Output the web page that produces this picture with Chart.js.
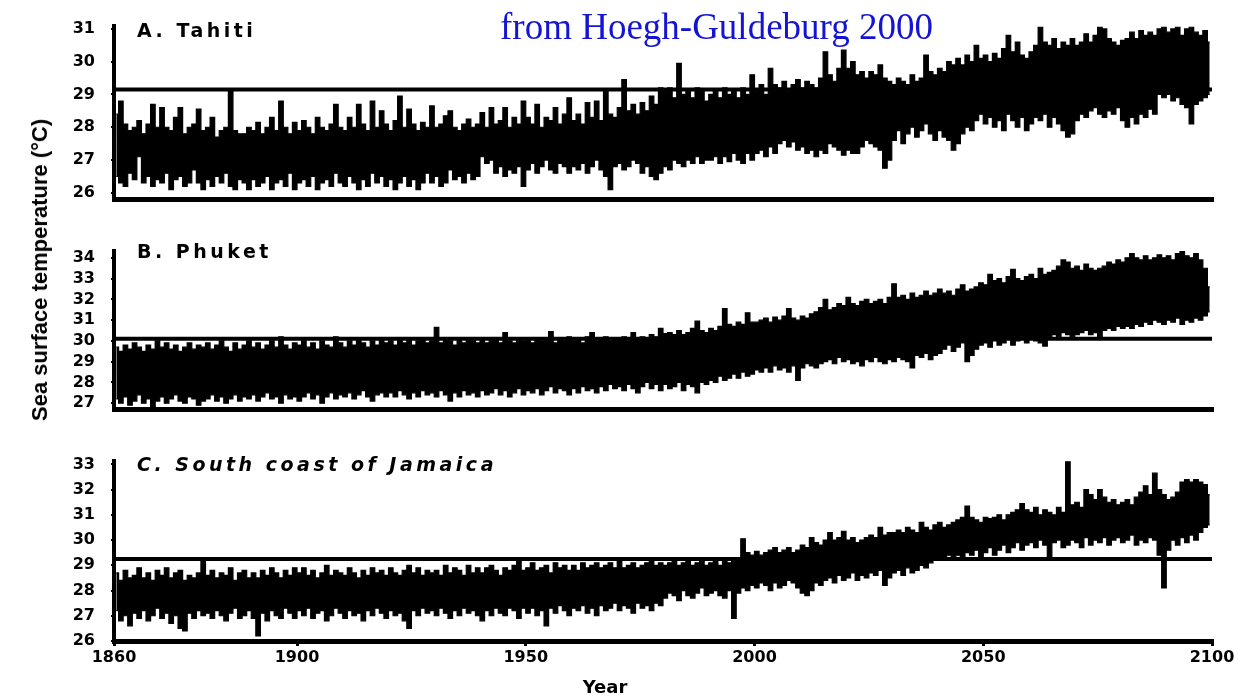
<!DOCTYPE html>
<html>
<head>
<meta charset="utf-8">
<script src="https://cdn.jsdelivr.net/npm/chart.js@4.4.1/dist/chart.umd.min.js"></script>
<style>
  html, body { margin: 0; padding: 0; background: #fff; }
  #wrap { position: relative; width: 1245px; height: 696px; overflow: hidden; background: #fff; }
  canvas { position: absolute; left: 0; }
  .lbl { position: absolute; font-family: "DejaVu Sans", sans-serif; font-weight: bold; color: #000; white-space: nowrap; }
  .panel { font-size: 19px; letter-spacing: 3.5px; }
</style>
</head>
<body>
<div id="wrap">
  <canvas id="cA" width="1245" height="225" style="top:0px"></canvas>
  <canvas id="cB" width="1245" height="210" style="top:225px"></canvas>
  <canvas id="cC" width="1245" height="261" style="top:435px"></canvas>

  <div class="lbl panel" style="left:137px; top:19px;">A. Tahiti</div>
  <div class="lbl panel" style="left:137px; top:240px;">B. Phuket</div>
  <div class="lbl panel" style="left:137px; top:453px; font-style:italic;">C. South coast of Jamaica</div>

  <div class="lbl" style="left:500px; top:5px; font-family:'Liberation Serif','Times New Roman',serif; font-weight:normal; font-size:37px; color:#1414d2;">from Hoegh-Guldeburg 2000</div>

  <div class="lbl" style="left:40px; top:270px; font-family:'Liberation Sans',Arial,sans-serif; font-size:22px; transform: translate(-50%,-50%) rotate(-90deg);">Sea surface temperature (°C)</div>

  <div class="lbl" style="left:605px; top:686px; font-size:18px; transform: translate(-50%,-50%);">Year</div>
</div>

<script>
// ---------------- DATA ----------------
const startYear = 1860;
const endYear = 2100;

// Tick labels
const xTickYears = [1860, 1900, 1950, 2000, 2050, 2100];
const tahitiTicks = [26, 27, 28, 29, 30, 31];
const phuketTicks = [27, 28, 29, 30, 31, 32, 33, 34];
const jamaicaTicks = [26, 27, 28, 29, 30, 31, 32, 33];

// Bleaching thresholds (horizontal lines)
const tahitiThreshold = 29.15;
const phuketThreshold = 30.1;
const jamaicaThreshold = 29.25;

// A. Tahiti: yearly upper and lower extremes of the monthly SST trace, 1860..2099
const tahitiHi = [
  28.4, 28.8, 28.1, 27.9, 28.0, 28.2, 27.8, 28.1, 28.7, 28.0,
  28.6, 28.0, 27.9, 28.3, 28.6, 27.8, 28.0, 28.1, 28.55, 27.9,
  28.0, 28.3, 27.7, 27.9, 28.0, 29.1, 27.9, 27.8, 27.8, 28.0,
  27.9, 28.15, 27.8, 28.0, 28.3, 27.9, 28.8, 28.0, 27.8, 28.15,
  27.9, 28.2, 28.0, 27.8, 28.3, 28.0, 27.9, 28.1, 28.7, 28.0,
  27.9, 28.3, 28.0, 28.7, 28.1, 27.9, 28.8, 28.0, 28.5, 28.1,
  27.9, 28.2, 28.95, 28.0, 28.55, 28.1, 27.9, 28.15, 28.0, 28.65,
  28.0, 28.1, 28.35, 28.5, 28.0, 27.9, 28.1, 28.25, 28.0, 28.1,
  28.45, 28.0, 28.6, 28.1, 28.2, 28.6, 28.0, 28.3, 28.1, 28.8,
  28.3, 28.1, 28.7, 28.0, 28.3, 28.2, 28.6, 28.1, 28.4, 28.9,
  28.2, 28.4, 28.1, 28.75, 28.3, 28.8, 28.2, 29.1, 28.4, 28.3,
  28.6, 29.45, 28.5, 28.7, 28.4, 28.75, 28.5, 28.95, 28.7, 29.2,
  29.1, 29.2, 28.9, 29.95, 29.0, 29.1, 28.9, 29.2, 29.1, 28.8,
  29.0, 29.1, 28.9, 29.2, 29.0, 29.1, 28.9, 29.2, 29.0, 29.6,
  29.1, 29.3, 29.0, 29.8, 29.3, 29.2, 29.4, 29.1, 29.3, 29.45,
  29.2, 29.4, 29.3, 29.2, 29.5, 30.3, 29.6, 29.4, 29.8, 30.35,
  29.8, 30.0, 29.6, 29.7, 29.5, 29.7, 29.6, 29.9, 29.5, 29.4,
  29.3, 29.5, 29.4, 29.3, 29.6, 29.4, 29.5, 30.2, 29.7, 29.6,
  29.8, 29.7, 30.0, 29.9, 30.1, 29.9, 30.2, 30.0, 30.5, 30.1,
  30.2, 30.0, 30.25, 30.1, 30.4, 30.8, 30.3, 30.6, 30.2, 30.1,
  30.3, 30.5, 31.05, 30.6, 30.5, 30.7, 30.4, 30.6, 30.5, 30.7,
  30.5, 30.6, 30.85, 30.6, 30.8, 31.05, 31.0, 30.7, 30.6, 30.5,
  30.65, 30.7, 30.9, 30.7, 30.95, 30.8, 30.9, 30.8, 31.0, 31.05,
  30.9, 31.0, 31.05, 30.8, 31.0, 31.05, 30.9, 30.8, 30.95, 30.6
];
const tahitiLo = [
  26.5, 26.3, 26.2, 26.6, 26.4, 27.1, 26.3, 26.5, 26.2, 26.4,
  26.3, 26.6, 26.1, 26.4, 26.5, 26.2, 26.3, 26.7, 26.3, 26.1,
  26.4, 26.2, 26.5, 26.3, 26.6, 26.2, 26.1, 26.4, 26.3, 26.1,
  26.4, 26.2, 26.3, 26.5, 26.1, 26.3, 26.4, 26.2, 26.6, 26.1,
  26.3, 26.4, 26.2, 26.5, 26.1, 26.3, 26.4, 26.2, 26.6, 26.3,
  26.2, 26.5, 26.3, 26.1, 26.4, 26.2, 26.6, 26.3, 26.5, 26.2,
  26.4, 26.1, 26.3, 26.5, 26.2, 26.4, 26.1, 26.3, 26.6, 26.3,
  26.5, 26.2, 26.3, 26.7, 26.4, 26.5, 26.3, 26.6, 26.4, 26.5,
  27.1, 26.9, 27.0, 26.6, 26.8, 26.5, 26.7, 26.6, 26.8, 26.2,
  26.7, 26.9, 26.6, 26.8, 27.0, 26.7, 26.6, 26.9, 26.8, 26.6,
  26.8, 26.7, 26.9, 26.6, 26.8, 27.0, 26.7, 26.5, 26.1, 26.8,
  26.9, 26.7, 26.8, 27.0, 26.9, 26.6, 26.8, 26.5, 26.4, 26.6,
  26.8, 26.7, 27.0, 26.9, 26.8, 27.0, 26.9, 27.1, 26.9, 27.0,
  27.0, 27.1, 26.9, 27.1, 26.95, 27.2, 27.0, 26.9, 27.2, 27.0,
  27.2, 27.3, 27.1, 27.4, 27.2, 27.5, 27.6, 27.4, 27.55, 27.3,
  27.4, 27.2, 27.3, 27.1, 27.3, 27.2, 27.5, 27.4, 27.3, 27.15,
  27.3, 27.2, 27.2, 27.4, 27.6, 27.5, 27.4, 27.3, 26.75, 27.0,
  27.6, 27.9, 27.5, 27.8, 28.0, 27.7, 27.9, 28.1, 27.8, 27.6,
  27.9, 27.7, 27.6, 27.3, 27.5, 27.8, 28.0, 27.9, 28.2, 28.4,
  28.1, 28.3, 28.0, 28.2, 27.9, 28.4, 28.2, 28.0, 28.3, 27.9,
  28.1, 28.3, 28.2, 28.4, 28.0, 28.3, 28.1, 27.9, 27.7, 27.8,
  28.2, 28.4, 28.3, 28.5, 28.6, 28.4, 28.3, 28.5, 28.4, 28.6,
  28.2, 28.0, 28.3, 28.1, 28.4, 28.3, 28.55, 28.4, 29.0, 28.9,
  29.0, 28.8, 28.9, 28.7, 28.6, 28.1, 28.7, 28.8, 28.9, 29.0
];

// B. Phuket
const phuketHi = [
  29.7, 29.5, 29.8, 29.6, 29.9, 29.7, 29.5, 29.8, 29.6, 30.0,
  29.7, 29.9, 29.6, 29.8, 29.5, 29.7, 29.9, 29.6, 29.8, 29.7,
  29.9, 29.6, 29.8, 30.0, 29.7, 29.5, 29.9, 29.6, 29.8, 30.0,
  29.7, 29.9, 29.6, 29.8, 30.0, 29.7, 30.2, 29.8, 29.6, 29.9,
  29.8, 30.0, 29.7, 29.9, 29.6, 30.0, 29.8, 29.7, 30.2, 29.9,
  29.7, 30.0, 29.8, 30.05, 29.9, 29.7, 30.0, 29.8, 30.1, 29.9,
  30.0, 29.8, 30.1, 29.9, 30.05, 29.8, 30.0, 30.1, 29.9, 30.0,
  30.65, 29.9, 30.1, 30.0, 29.8, 30.1, 29.9, 30.05, 30.0, 29.9,
  30.1, 29.9, 30.0, 30.1, 29.9, 30.4, 30.0, 29.9, 30.1, 30.0,
  30.1, 29.9, 30.05, 30.0, 30.1, 30.45, 29.9, 30.1, 30.0, 30.2,
  30.0, 30.1, 29.9, 30.2, 30.4, 30.0, 30.1, 30.2, 30.0, 30.15,
  30.1, 30.2, 30.0, 30.4, 30.1, 30.2, 30.05, 30.3, 30.2, 30.6,
  30.35, 30.4, 30.3, 30.5, 30.3, 30.4, 30.6, 30.95, 30.5, 30.4,
  30.6, 30.5, 30.7, 31.55, 30.8, 30.7, 30.9, 30.8, 31.35, 30.9,
  30.9, 31.0, 31.1, 30.9, 31.15, 31.0, 31.2, 31.55, 31.1, 31.0,
  31.2, 31.1, 31.3, 31.4, 31.6, 32.0, 31.5, 31.6, 31.8, 31.7,
  32.1, 31.8, 31.7, 31.9, 32.0, 31.8, 31.9, 32.0, 31.8, 32.1,
  32.75, 32.1, 32.2, 32.0, 32.3, 32.1, 32.2, 32.4, 32.2, 32.3,
  32.5, 32.3, 32.4, 32.2, 32.5, 32.7, 32.4, 32.5, 32.6, 32.8,
  32.7, 33.2, 32.9, 33.0, 32.8, 33.1, 33.45, 33.0, 32.9, 33.1,
  33.2, 33.0, 33.5, 33.2, 33.3, 33.4, 33.6, 33.9, 33.8, 33.5,
  33.6, 33.4, 33.7, 33.5, 33.4, 33.5, 33.6, 33.8, 33.7, 33.9,
  33.8, 34.0, 34.2, 34.0, 33.9, 34.1, 33.9, 34.0, 34.15, 34.0,
  34.1, 33.9, 34.2, 34.3, 34.1, 34.0, 34.2, 33.9, 33.5, 32.6
];
const phuketLo = [
  27.2, 27.0, 27.3, 26.9, 27.1, 27.4, 27.0, 27.2, 26.8, 27.1,
  27.3, 27.0, 27.2, 27.4, 27.1, 27.0, 27.3, 27.2, 26.9, 27.1,
  27.2, 27.4, 27.1, 27.3, 27.0, 27.2, 27.4, 27.1, 27.3, 27.2,
  27.4, 27.1, 27.3, 27.5, 27.2, 27.3, 27.0, 27.4, 27.2, 27.3,
  27.1, 27.3, 27.5, 27.2, 27.4, 27.0, 27.3, 27.5, 27.2, 27.4,
  27.3, 27.5, 27.2, 27.4, 27.6, 27.3, 27.1, 27.4, 27.5, 27.3,
  27.5, 27.3, 27.6, 27.4, 27.2, 27.5, 27.3, 27.6, 27.4, 27.5,
  27.3, 27.6, 27.4, 27.1, 27.5, 27.3, 27.6, 27.4, 27.5, 27.3,
  27.6, 27.4, 27.5, 27.7, 27.4, 27.6, 27.3, 27.5, 27.7, 27.4,
  27.6, 27.5, 27.7, 27.4, 27.6, 27.8, 27.5, 27.7, 27.6, 27.4,
  27.7, 27.5, 27.8, 27.6, 27.7, 27.5, 27.8, 27.6, 27.9, 27.7,
  27.8, 27.6, 27.9, 27.7, 27.5, 27.8, 28.0, 27.7, 27.9, 27.6,
  27.9, 27.7, 27.8, 28.0, 27.6, 27.9, 27.8, 27.5, 28.0, 27.9,
  28.1, 28.0, 28.3, 28.1, 28.2, 28.4, 28.2, 28.5, 28.3, 28.4,
  28.6, 28.5, 28.7, 28.5, 28.8, 28.6, 28.7, 28.5, 28.8, 28.1,
  28.7, 28.9, 28.8, 28.7, 28.9, 29.0, 29.1, 28.9, 29.2, 29.0,
  29.1, 28.9, 29.0, 28.8, 29.1, 29.0, 29.2, 29.0, 28.9, 29.1,
  29.0, 29.2, 29.1, 29.0, 28.7, 29.3, 29.2, 29.4, 29.1, 29.3,
  29.4, 29.6, 29.8, 29.5, 29.7, 29.9, 29.0, 29.3, 29.6, 29.8,
  29.9, 29.7, 30.0, 29.8, 29.9, 30.1, 29.8, 30.0, 30.2, 29.9,
  30.1, 30.0, 29.9, 29.75, 30.2, 30.3, 30.2, 30.4, 30.3, 30.2,
  30.3, 30.4, 30.5, 30.3, 30.4, 30.2, 30.5, 30.6, 30.5, 30.7,
  30.6, 30.7, 30.6, 30.8, 30.7, 30.9, 30.8, 31.0, 30.9, 30.8,
  31.0, 30.9, 31.1, 30.8, 31.0, 30.9, 31.1, 31.0, 31.2, 31.4
];

// C. South coast of Jamaica
const jamaicaHi = [
  28.7, 28.4, 28.8, 28.5, 28.6, 28.9, 28.5, 28.7, 28.4, 28.8,
  28.6, 28.9, 28.5, 28.7, 28.8, 28.4, 28.6, 28.5, 28.7, 29.2,
  28.6, 28.8, 28.5, 28.7, 28.6, 28.9, 28.4, 28.7, 28.8, 28.5,
  28.7, 28.5, 28.8, 28.6, 28.9, 28.7, 28.5, 28.8, 28.6, 28.9,
  28.7, 28.9, 28.6, 28.8, 28.5, 28.7, 29.0, 28.6, 28.8, 28.7,
  28.6, 28.9, 28.7, 28.5, 28.8, 28.6, 28.9, 28.7, 28.8, 28.6,
  28.9, 28.7, 28.6, 28.8, 29.0, 28.7, 28.9, 28.6, 28.8, 28.7,
  28.8, 28.6, 29.0, 28.7, 28.9, 28.8, 28.6, 29.0, 28.7, 28.9,
  28.7, 28.9, 29.0, 28.8, 28.6, 28.9, 28.8, 29.0, 29.2, 28.8,
  28.9, 29.1, 28.8, 28.9, 29.0, 28.7, 29.1, 28.9, 29.0, 28.8,
  29.0, 28.8, 29.1, 28.9, 29.0, 29.1, 28.9, 29.0, 29.1, 28.9,
  29.2, 28.9, 29.0, 29.1, 28.9, 29.0, 29.1, 29.2, 29.0, 29.1,
  29.0, 29.1, 29.2, 29.0, 29.1, 29.2, 29.0, 29.1, 29.2, 29.0,
  29.1, 29.2, 29.0, 29.15, 29.1, 29.2, 29.3, 30.05, 29.5, 29.4,
  29.55, 29.4, 29.5, 29.6, 29.7, 29.5, 29.6, 29.7, 29.5, 29.6,
  29.8, 29.7, 30.1, 29.9, 29.8, 30.0, 30.3, 30.0, 30.1, 30.35,
  30.0, 30.1, 29.9, 30.0, 30.1, 30.2, 30.1, 30.5, 30.2, 30.3,
  30.3, 30.4, 30.3, 30.5, 30.4, 30.3, 30.7, 30.5, 30.4, 30.6,
  30.7, 30.5, 30.6, 30.7, 30.8, 30.9, 31.35, 30.9, 30.8, 30.7,
  30.9, 30.85, 30.9, 31.0, 30.8, 31.0, 31.1, 31.2, 31.45, 31.2,
  31.1, 31.3, 31.0, 31.2, 31.1, 31.0, 31.3, 31.1, 33.1, 31.4,
  31.5, 31.3, 32.0, 31.8, 31.6, 32.0, 31.7, 31.5, 31.6, 31.4,
  31.5, 31.6, 31.4, 31.7, 31.9, 32.15, 31.8, 32.65, 32.0, 31.8,
  31.6, 31.7, 31.9, 32.3, 32.4, 32.3, 32.4, 32.3, 32.2, 31.8
];
const jamaicaLo = [
  27.2, 26.8, 27.0, 26.6, 27.1, 26.9, 27.2, 26.8, 27.0, 27.3,
  26.9, 27.1, 26.7, 27.0, 26.5, 26.4, 27.1, 26.9, 27.2, 27.0,
  27.1, 26.9, 27.2, 27.0, 26.8, 27.1, 27.3, 26.9, 27.0, 27.2,
  26.9, 26.2, 27.1, 26.8, 27.2, 27.0, 26.9, 27.3, 27.1, 26.9,
  27.2, 27.0, 27.3, 26.9, 27.1, 27.2, 26.8, 27.0, 27.3, 27.1,
  26.9, 27.2, 27.0, 27.1, 26.8, 27.2, 27.0, 27.3, 27.1, 26.9,
  27.2, 27.0, 27.1, 26.8, 26.5, 27.2, 27.0, 27.3, 27.1, 27.2,
  27.0, 27.3, 27.1, 26.9, 27.2, 27.0, 27.3, 27.1, 27.2, 27.0,
  26.8, 27.2, 27.0, 27.3, 27.1, 27.0, 27.3, 27.2, 26.9, 27.3,
  27.1, 27.3, 27.0, 27.2, 26.6, 27.3, 27.1, 27.4, 27.2, 27.0,
  27.3, 27.2, 27.4, 27.1, 27.3, 27.0, 27.4, 27.2, 27.3, 27.5,
  27.2, 27.4, 27.3, 27.1, 27.5, 27.3, 27.4, 27.2, 27.5, 27.4,
  27.7, 27.9, 27.8, 27.6, 28.0, 27.8, 27.7, 27.9, 28.1, 27.8,
  27.9, 28.0, 27.8, 27.7, 28.0, 26.9, 27.9, 28.1, 28.0, 28.2,
  28.1, 28.3, 28.2, 28.0, 28.3, 28.1, 28.2, 28.4, 28.3, 28.1,
  27.9, 27.8, 28.0, 28.3, 28.2, 28.4, 28.5, 28.3, 28.6, 28.4,
  28.5, 28.7, 28.4, 28.6, 28.5, 28.7, 28.6, 28.8, 28.2, 28.5,
  28.7, 28.8, 28.6, 28.9, 28.7, 28.8, 29.0, 28.9, 29.1, 29.2,
  29.2, 29.3, 29.4, 29.2, 29.4, 29.3, 29.5, 29.4, 29.6, 29.3,
  29.5, 29.7, 29.4, 29.6, 29.8, 29.5, 29.7, 29.9, 29.6, 29.8,
  29.9, 29.7, 30.0, 29.8, 29.3, 29.9, 30.0, 29.7, 29.8, 30.0,
  29.9, 29.7, 30.1, 29.8, 30.0, 29.9, 30.1, 29.8, 30.0, 30.1,
  29.9, 30.0, 30.2, 29.8, 30.0, 29.9, 30.1, 30.0, 29.4, 28.1,
  29.6, 30.0, 29.8, 30.1, 29.9, 30.2, 30.0, 30.3, 30.5, 30.6
];

// ---------------- BUILD ----------------
function series(vals) {
  return vals.map((v, i) => ({ x: startYear + i + 0.5, y: v }));
}

const FONT = "'DejaVu Sans', 'Liberation Sans', Arial, sans-serif";

function makePanel(id, hi, lo, thr, yTicks, yMin, yMax, padTop, xAxisH, showX) {
  const ctx = document.getElementById(id);
  return new Chart(ctx, {
    type: 'line',
    data: {
      datasets: [
        {
          data: [{ x: startYear, y: thr }, { x: endYear, y: thr }],
          borderColor: '#000', borderWidth: 4, pointRadius: 0, clip: false, fill: false
        },
        {
          data: series(hi),
          borderColor: '#000', backgroundColor: '#000', borderWidth: 1.2, pointRadius: 0,
          stepped: 'middle', fill: '+1'
        },
        {
          data: series(lo),
          borderColor: '#000', borderWidth: 1.2, pointRadius: 0,
          stepped: 'middle', fill: false
        }
      ]
    },
    options: {
      responsive: false,
      animation: false,
      devicePixelRatio: 1,
      events: [],
      layout: { padding: { top: padTop, right: 33, left: 0, bottom: 0 } },
      plugins: { legend: { display: false }, tooltip: { enabled: false }, title: { display: false }, filler: { propagate: false } },
      scales: {
        x: {
          type: 'linear', min: startYear, max: endYear,
          afterFit: (s) => { s.height = xAxisH; },
          afterBuildTicks: (s) => { s.ticks = showX ? xTickYears.map(v => ({ value: v })) : []; },
          border: { display: true, color: '#000', width: 5 },
          grid: { display: showX, drawOnChartArea: false, drawTicks: true, tickLength: 5, lineWidth: 3, color: '#000' },
          ticks: {
            display: showX, color: '#000', padding: 2, maxRotation: 0, autoSkip: false,
            font: { family: FONT, weight: 'bold', size: 16 },
            callback: (v) => String(v)
          }
        },
        y: {
          type: 'linear', min: yMin, max: yMax,
          afterFit: (s) => { s.width = 114; },
          afterBuildTicks: (s) => { s.ticks = yTicks.map(v => ({ value: v })); },
          border: { display: true, color: '#000', width: 4 },
          grid: { display: true, drawOnChartArea: false, drawTicks: true, tickLength: 3, lineWidth: 2, color: '#000' },
          ticks: {
            color: '#000', padding: 16, autoSkip: false,
            font: { family: FONT, weight: 'bold', size: 16 },
            callback: (v) => String(v)
          }
        }
      }
    }
  });
}

makePanel('cA', tahitiHi, tahitiLo, tahitiThreshold, tahitiTicks, 25.8, 31.1, 16, 15, false);
makePanel('cB', phuketHi, phuketLo, phuketThreshold, phuketTicks, 26.7, 34.35, 9, 15, false);
makePanel('cC', jamaicaHi, jamaicaLo, jamaicaThreshold, jamaicaTicks, 26.0, 33.15, 12, 55, true);
</script>
</body>
</html>
